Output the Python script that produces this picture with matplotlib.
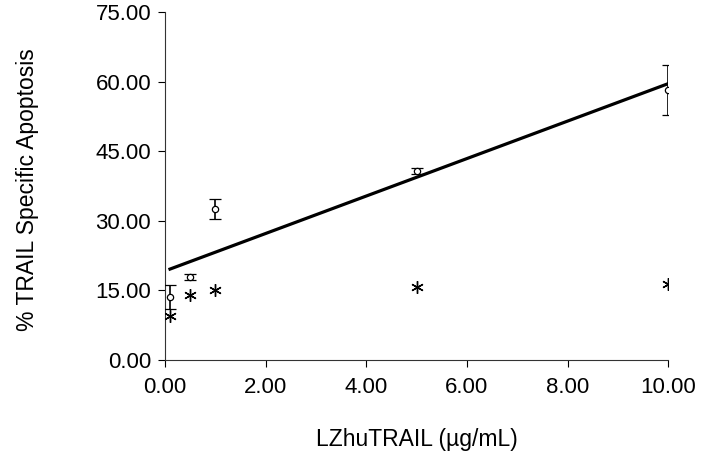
import numpy as np
import matplotlib
matplotlib.use("Agg")
import matplotlib.pyplot as plt

plt.rcParams['font.family'] = ['Liberation Sans', 'DejaVu Sans']

# dose of LZhuTRAIL (ug/mL)
dose = [0.1, 0.5, 1.0, 5.0, 10.0]
# mean % TRAIL specific apoptosis and error
apoptosis = [13.6, 17.9, 32.6, 40.7, 58.2]
apoptosis_err = [2.5, 0.7, 2.2, 0.6, 5.4]
# asterisk series
star_vals = [9.5, 14.0, 15.0, 15.8, 16.3]

xticks = [0, 2, 4, 6, 8, 10]
yticks = [0, 15, 30, 45, 60, 75]

fig = plt.figure(figsize=(7.05, 4.61), dpi=100)
ax = fig.add_axes([0.234, 0.219, 0.714, 0.755])

# linear regression of the means
slope, intercept = np.polyfit(dose, apoptosis, 1)
xs = np.array([dose[0], dose[-1]])
ax.plot(xs, slope * xs + intercept, color='black', lw=2.3, zorder=2)

ax.errorbar(dose, apoptosis, yerr=apoptosis_err, fmt='o', color='black',
            mfc='white', mec='black', ms=4.5, mew=0.9, elinewidth=1.2,
            capsize=4, capthick=1.6, zorder=3)
ax.plot(dose, star_vals, linestyle='none', marker=(6, 2, 0), ms=9,
        color='black', mew=1.0, zorder=3)

ax.set_xlim(0, 10)
ax.set_ylim(0, 75)
ax.set_xticks(xticks)
ax.set_yticks(yticks)
ax.set_xticklabels([f"{v:.2f}" for v in xticks])
ax.set_yticklabels([f"{v:.2f}" for v in yticks])
ax.tick_params(labelsize=16, length=5, width=0.8, direction='out', pad=5)
ax.tick_params(axis='x', pad=7)
ax.spines['top'].set_visible(False)
ax.spines['right'].set_visible(False)
for s in ('left', 'bottom'):
    ax.spines[s].set_linewidth(0.8)
    ax.spines[s].set_color('#333333')

ax.set_xlabel("LZhuTRAIL (\u00b5g/mL)", fontsize=16.5)
ax.set_ylabel("% TRAIL Specific Apoptosis", fontsize=16.5)
ax.xaxis.set_label_coords(0.5, -0.195)
ax.yaxis.set_label_coords(-0.25, 0.49)

fig.savefig("out.png", dpi=100)
